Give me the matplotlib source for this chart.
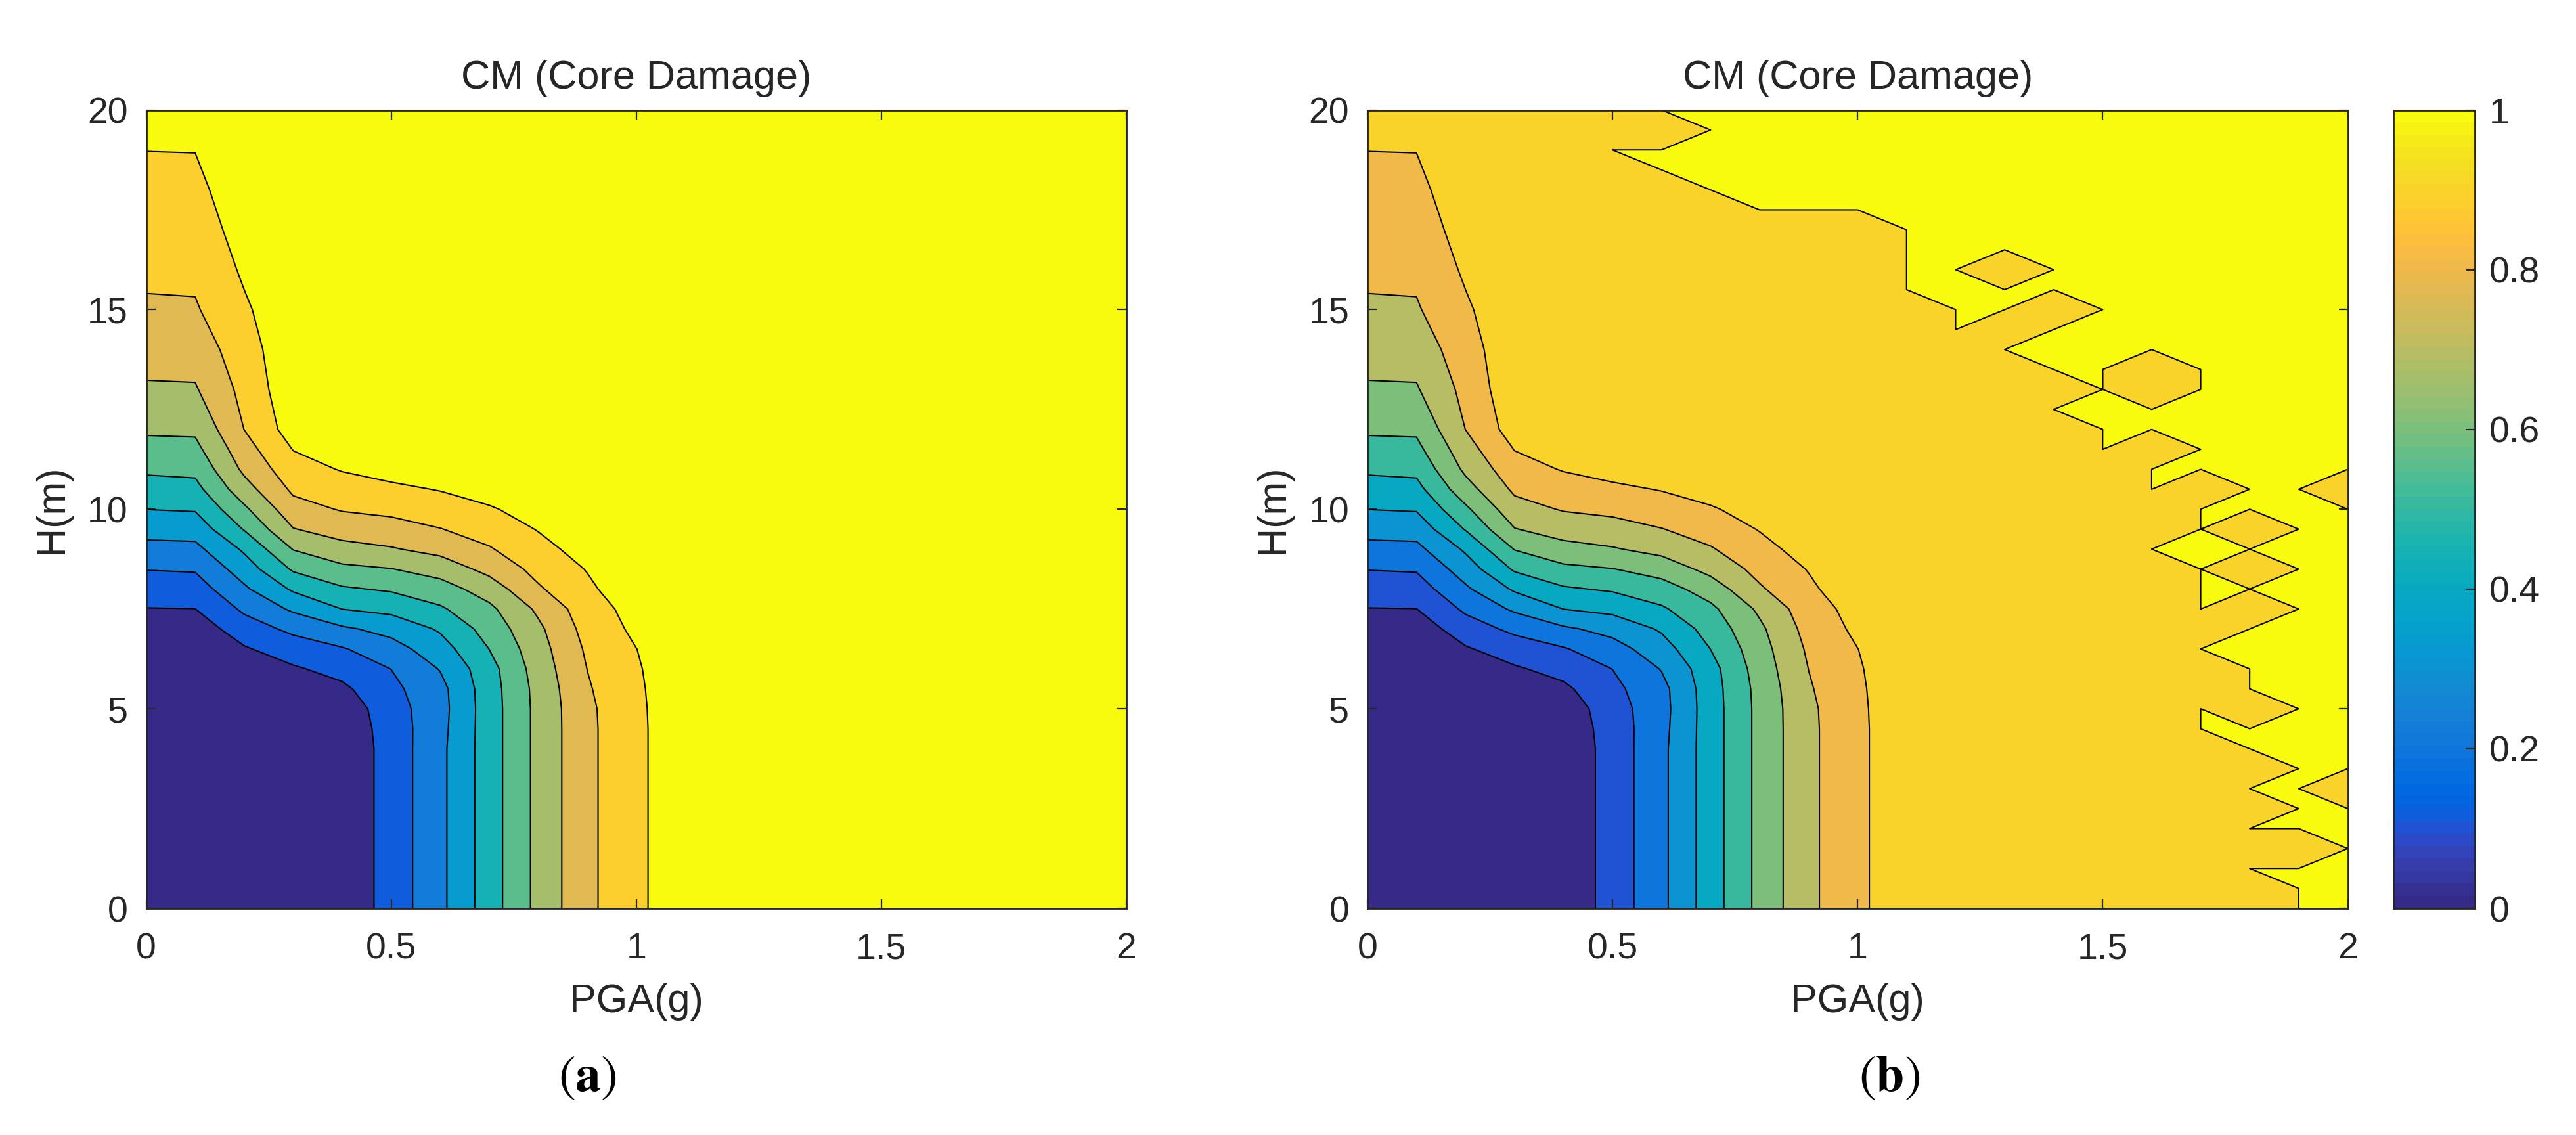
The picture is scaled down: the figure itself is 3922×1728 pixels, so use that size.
import numpy as np
import matplotlib
matplotlib.use("Agg")
import matplotlib.pyplot as plt
from matplotlib.colors import ListedColormap, Normalize
from matplotlib.cm import ScalarMappable

plt.rcParams['font.family'] = ['Liberation Sans', 'DejaVu Sans']
plt.rcParams['mathtext.fontset'] = 'stix'

# ---------------- data ----------------
PGA = [0.0, 0.1, 0.2, 0.3, 0.4, 0.5, 0.6, 0.7, 0.8, 0.9, 1.0,
       1.1, 1.2, 1.3, 1.4, 1.5, 1.6, 1.7, 1.8, 1.9, 2.0]
H = [0, 1, 2, 3, 4, 4.5, 5, 5.5, 6, 6.5, 7, 7.5, 8, 8.5, 9, 9.5, 10, 10.5,
     11, 11.5, 12, 13, 14, 15, 16, 17, 18, 19, 20]

# core-damage probability (x1000); one row per H value, columns = PGA 0..1.0,
# PGA 1.1..2.0 are all 970 (beyond the last contour)
CD_PERMILLE_LEFT = [
    [10, 10, 10, 15, 24, 141, 276, 452, 628, 778, 878],    # H 0
    [10, 10, 10, 15, 24, 141, 276, 452, 628, 778, 878],    # H 1
    [10, 10, 10, 15, 24, 141, 276, 452, 628, 778, 878],    # H 2
    [10, 10, 10, 15, 24, 141, 276, 452, 628, 778, 878],    # H 3
    [10, 10, 10, 15, 24, 141, 276, 452, 628, 778, 878],    # H 4
    [10, 10, 10, 15, 30, 145, 270, 452, 628, 778, 878],    # H 4.5
    [10, 10, 10, 20, 40, 155, 265, 452, 628, 780, 880],    # H 5
    [10, 10, 15, 40, 80, 175, 270, 455, 632, 790, 884],    # H 5.5
    [20, 20, 27, 88, 134, 201, 305, 463, 645, 801, 890],   # H 6
    [30, 30, 90, 150, 192, 260, 357, 501, 660, 815, 899],  # H 6.5
    [41, 43, 153, 222, 284, 332, 412, 540, 680, 835, 920], # H 7
    [97, 99, 217, 316, 401, 427, 487, 578, 718, 855, 935], # H 7.5
    [148, 152, 284, 414, 488, 512, 557, 646, 788, 880, 970],  # H 8
    [203, 209, 348, 513, 577, 597, 641, 730, 830, 905, 970],  # H 8.5
    [269, 274, 415, 604, 667, 692, 731, 792, 867, 940, 970],  # H 9
    [336, 341, 506, 696, 743, 762, 797, 842, 905, 970, 970],  # H 9.5
    [401, 408, 581, 763, 807, 824, 852, 890, 940, 970, 970],  # H 10
    [460, 469, 660, 818, 856, 880, 905, 940, 970, 970, 970],  # H 10.5
    [516, 524, 720, 861, 906, 936, 959, 970, 970, 970, 970],  # H 11
    [568, 573, 760, 903, 950, 960, 970, 970, 970, 970, 970],  # H 11.5
    [614, 617, 801, 945, 970, 970, 970, 970, 970, 970, 970],  # H 12
    [688, 691, 829, 970, 970, 970, 970, 970, 970, 970, 970],  # H 13
    [740, 742, 857, 970, 970, 970, 970, 970, 970, 970, 970],  # H 14
    [787, 790, 886, 970, 970, 970, 970, 970, 970, 970, 970],  # H 15
    [819, 821, 914, 970, 970, 970, 970, 970, 970, 970, 970],  # H 16
    [846, 848, 940, 970, 970, 970, 970, 970, 970, 970, 970],  # H 17
    [873, 875, 960, 970, 970, 970, 970, 970, 970, 970, 970],  # H 18
    [901, 902, 960, 970, 970, 970, 970, 970, 970, 970, 970],  # H 19
    [930, 930, 960, 970, 970, 970, 970, 970, 970, 970, 970],  # H 20
]
CD_PERMILLE_RIGHT = [970, 970, 970, 970, 970, 970, 970, 970, 970, 970]  # PGA 1.1..2.0

# panel (b): grid points where the probability reaches exactly 1
# ('#' = 1, '.' = below 1); rows from H = 20 (top) down to H = 0 in 0.5 steps,
# columns PGA 0 .. 2 in 0.1 steps
H_FINE = [0.0, 0.5, 1.0, 1.5, 2.0, 2.5, 3.0, 3.5, 4.0, 4.5, 5.0, 5.5, 6.0, 6.5,
          7.0, 7.5, 8.0, 8.5, 9.0, 9.5, 10.0, 10.5, 11.0, 11.5, 12.0, 12.5,
          13.0, 13.5, 14.0, 14.5, 15.0, 15.5, 16.0, 16.5, 17.0, 17.5, 18.0,
          18.5, 19.0, 19.5, 20.0]
FULL_DAMAGE_B = [
    "......###############",  # 20
    ".......##############",  # 19.5
    ".....################",  # 19
    "......###############",  # 18.5
    ".......##############",  # 18
    "........#############",  # 17.5
    "...........##########",  # 17
    "...........##########",  # 16.5
    "...........##.#######",  # 16
    "...........##########",  # 15.5
    "............##.######",  # 15
    "............#.#######",  # 14.5
    ".............########",  # 14
    "..............##.####",  # 13.5
    "...............#.####",  # 13
    "..............#######",  # 12.5
    "...............######",  # 12
    "...............#.####",  # 11.5
    "................#####",  # 11
    "................#.##.",  # 10.5
    ".................####",  # 10
    ".................#.##",  # 9.5
    "................#####",  # 9
    ".................#.##",  # 8.5
    ".................####",  # 8
    ".................#.##",  # 7.5
    "..................###",  # 7
    ".................####",  # 6.5
    "..................###",  # 6
    "..................###",  # 5.5
    ".................#.##",  # 5
    ".................####",  # 4.5
    "..................###",  # 4
    "...................##",  # 3.5
    "..................##.",  # 3
    "...................##",  # 2.5
    "..................###",  # 2
    "....................#",  # 1.5
    "..................###",  # 1
    "...................##",  # 0.5
    "...................##",  # 0
]

LEVELS = [0.0, 0.1, 0.2, 0.3, 0.4, 0.5, 0.6, 0.7, 0.8, 0.9]
COLORBAR_TICKS = [0, 0.2, 0.4, 0.6, 0.8, 1.0]
COLORBAR_LABELS = ['0', '0.2', '0.4', '0.6', '0.8', '1']

# ---------------- style: MATLAB parula colormap (64 entries) ----------------
PARULA = [
    (0.2081, 0.1663, 0.5292), (0.2116, 0.1898, 0.5777), (0.2123, 0.2138, 0.6270),
    (0.2081, 0.2386, 0.6771), (0.1959, 0.2645, 0.7279), (0.1707, 0.2919, 0.7792),
    (0.1253, 0.3242, 0.8303), (0.0591, 0.3598, 0.8683), (0.0117, 0.3875, 0.8820),
    (0.0060, 0.4086, 0.8828), (0.0165, 0.4266, 0.8786), (0.0329, 0.4430, 0.8720),
    (0.0498, 0.4586, 0.8641), (0.0629, 0.4737, 0.8554), (0.0723, 0.4887, 0.8467),
    (0.0779, 0.5040, 0.8384), (0.0793, 0.5200, 0.8312), (0.0749, 0.5375, 0.8263),
    (0.0641, 0.5570, 0.8240), (0.0488, 0.5772, 0.8228), (0.0343, 0.5966, 0.8199),
    (0.0265, 0.6137, 0.8135), (0.0239, 0.6287, 0.8038), (0.0231, 0.6418, 0.7913),
    (0.0228, 0.6535, 0.7768), (0.0267, 0.6642, 0.7607), (0.0384, 0.6743, 0.7436),
    (0.0590, 0.6838, 0.7254), (0.0843, 0.6928, 0.7062), (0.1133, 0.7015, 0.6859),
    (0.1453, 0.7098, 0.6646), (0.1801, 0.7177, 0.6424), (0.2178, 0.7250, 0.6193),
    (0.2586, 0.7317, 0.5954), (0.3022, 0.7376, 0.5712), (0.3482, 0.7424, 0.5473),
    (0.3953, 0.7459, 0.5244), (0.4420, 0.7481, 0.5033), (0.4871, 0.7491, 0.4840),
    (0.5300, 0.7491, 0.4661), (0.5709, 0.7485, 0.4494), (0.6099, 0.7473, 0.4337),
    (0.6473, 0.7456, 0.4188), (0.6834, 0.7435, 0.4044), (0.7184, 0.7411, 0.3905),
    (0.7525, 0.7384, 0.3768), (0.7858, 0.7356, 0.3633), (0.8185, 0.7327, 0.3498),
    (0.8507, 0.7299, 0.3360), (0.8824, 0.7274, 0.3217), (0.9139, 0.7258, 0.3063),
    (0.9450, 0.7261, 0.2886), (0.9739, 0.7314, 0.2666), (0.9938, 0.7455, 0.2403),
    (0.9990, 0.7653, 0.2164), (0.9955, 0.7861, 0.1967), (0.9880, 0.8066, 0.1794),
    (0.9789, 0.8271, 0.1633), (0.9697, 0.8481, 0.1475), (0.9626, 0.8705, 0.1309),
    (0.9589, 0.8949, 0.1132), (0.9598, 0.9218, 0.0948), (0.9661, 0.9514, 0.0755),
    (0.9763, 0.9831, 0.0538),
]


def parula_at(v):
    return PARULA[min(int(v * 64), 63)]


AX_COLOR = (0.15, 0.15, 0.15)
LINE_W = 0.75

X, Y = np.meshgrid(PGA, H)
Z = np.array([row + CD_PERMILLE_RIGHT for row in CD_PERMILLE_LEFT], dtype=float) / 1000.0
XF, YF = np.meshgrid(PGA, H_FINE)
M = np.array([[1.0 if c == '#' else 0.0 for c in row] for row in FULL_DAMAGE_B[::-1]])

W, Hpx = 3922, 1728
fig = plt.figure(figsize=(W / 200, Hpx / 200), dpi=200)
fig.patch.set_facecolor('white')

ax_w = 1492.5
ax_top, ax_bot = 167.5, 1383.0
axA = fig.add_axes([222.5 / W, 1 - ax_bot / Hpx, ax_w / W, (ax_bot - ax_top) / Hpx])
axB = fig.add_axes([2082 / W, 1 - ax_bot / Hpx, ax_w / W, (ax_bot - ax_top) / Hpx])
cax = fig.add_axes([3644 / W, 1 - ax_bot / Hpx, 124 / W, (ax_bot - ax_top) / Hpx])

fill_levels = LEVELS + [1.0]

# panel (a)
colors_a = [parula_at(i / 9) for i in range(10)]
axA.contourf(X, Y, Z, levels=fill_levels, colors=colors_a, antialiased=True)
axA.contour(X, Y, Z, levels=LEVELS[1:], colors='k', linewidths=LINE_W)

# panel (b)
colors_b = [parula_at(i / 10) for i in range(10)]
axB.contourf(X, Y, Z, levels=fill_levels, colors=colors_b, antialiased=True)
axB.contourf(XF, YF, M, levels=[0.999, 1.5], colors=[parula_at(1.0)], antialiased=True)
axB.contour(X, Y, Z, levels=LEVELS[1:], colors='k', linewidths=LINE_W)
axB.contour(XF, YF, M, levels=[0.999], colors='k', linewidths=LINE_W)

for ax in (axA, axB):
    ax.set_xlim(0, 2)
    ax.set_ylim(0, 20)
    ax.set_xticks([0, 0.5, 1, 1.5, 2])
    ax.set_xticklabels(['0', '0.5', '1', '1.5', '2'])
    ax.set_yticks([0, 5, 10, 15, 20])
    ax.set_yticklabels(['0', '5', '10', '15', '20'])
    ax.tick_params(direction='in', top=True, right=True, length=5, width=0.8,
                   color=AX_COLOR, labelcolor=AX_COLOR, labelsize=20)
    ax.tick_params(axis='x', pad=13)
    ax.tick_params(axis='y', pad=10)
    for s in ax.spines.values():
        s.set_color(AX_COLOR)
        s.set_linewidth(1.0)
        s.set_zorder(5)
    ax.set_xlabel('PGA(g)', fontsize=22, color=AX_COLOR)
    ax.xaxis.set_label_coords(0.5, -0.094)
    ax.set_ylabel('H(m)', fontsize=22, color=AX_COLOR)
    ax.yaxis.set_label_coords(-0.077, 0.5)
    ax.text(0.5, 1.027, 'CM (Core Damage)', transform=ax.transAxes,
            ha='center', va='baseline', fontsize=22, color=AX_COLOR)

# colorbar
sm = ScalarMappable(norm=Normalize(0, 1), cmap=ListedColormap(PARULA))
cb = fig.colorbar(sm, cax=cax, ticks=COLORBAR_TICKS)
cb.ax.set_yticklabels(COLORBAR_LABELS)
cb.ax.tick_params(direction='in', length=5, width=0.8, color=AX_COLOR,
                  labelcolor=AX_COLOR, labelsize=20, pad=8)
cb.outline.set_edgecolor(AX_COLOR)
cb.outline.set_linewidth(1.0)

# sub-figure labels
fig.text(894 / W, 1 - 1641 / Hpx, r'$(\mathbf{a})$', ha='center', va='center', fontsize=28)
fig.text(2877 / W, 1 - 1641 / Hpx, r'$(\mathbf{b})$', ha='center', va='center', fontsize=28)

fig.savefig('out.png', dpi=200, facecolor='white')
